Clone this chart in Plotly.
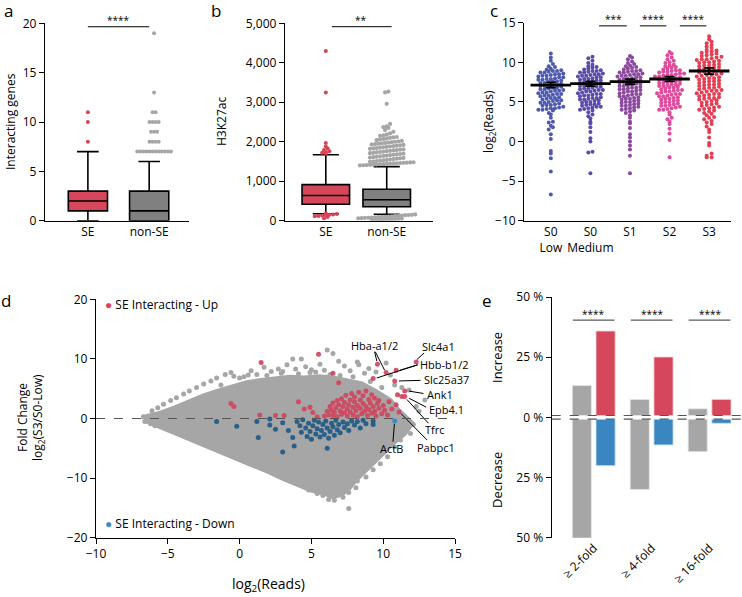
import plotly.graph_objects as go

# ---------------- data ----------------
# panel a: interacting genes (box stats + outliers)
A_CATS = ["SE", "non-SE"]
A_LOW = [0, 0]
A_Q1 = [1, 0]
A_MED = [2, 1]
A_Q3 = [3, 3]
A_HIGH = [7, 6]
A_SE_OUT = [8, 10, 11]
A_NONSE_OUT = [7, 7, 7, 7, 7, 7, 7, 7, 7, 7, 7, 7, 8, 8, 8, 8, 9, 9, 9,
               10, 10, 10, 10, 11, 11, 13, 19]

# panel b: H3K27ac
B_CATS = ["SE", "non-SE"]
B_LOW = [175, 165]
B_Q1 = [415, 355]
B_MED = [640, 530]
B_Q3 = [915, 795]
B_HIGH = [1670, 1370]
B_SE_OUT = [4300, 3250, 1970, 1880, 1830, 1790, 1760, 1740, 1720, 1700,
            185, 170, 160, 150, 140, 130, 120, 110, 95, 60]
B_NONSE_OUT = [3270, 3250, 2960, 2450, 2390, 2370, 2350, 2300, 2250, 2210, 2180,
               2160, 2150, 2120, 2110, 2100, 2080, 2070, 2060, 2040, 2020, 2010,
               2000, 1990, 1980, 1970, 1960, 1950, 1940, 1930, 1920, 1910, 1900,
               1890, 1880, 1870, 1860, 1850, 1840, 1830, 1820, 1810, 1800, 1790,
               1780, 1770, 1760, 1750, 1740, 1730, 1720, 1710, 1700, 1690, 1680,
               1670, 1660, 1650, 1640, 1630, 1620, 1610, 1600, 1590, 1580, 1570,
               1560, 1550, 1540, 1530, 1520, 1510, 1500, 1490, 1480, 1475, 1470,
               1465, 1460, 1455, 1450, 1445, 1440, 1435, 1430, 1425, 1420, 1415,
               1410, 1405, 1400,
               160, 150, 145, 140, 130, 125, 120, 110, 105, 100, 95, 90, 85, 80,
               75, 70, 65, 60, 55, 50, 45, 40, 35, 30, 25, 20, 15, 10]

# panel c: log2(Reads) per stage
C_CATS = ["S0<br>Low", "S0<br>Medium", "S1", "S2", "S3"]
C_S0_LOW = [11.1, 10.6, 10.2, 9.8, 9.5, 9.4, 9.2, 9.1, 9.0, 8.9, 8.9, 8.8, 8.7, 8.7,
            8.6, 8.5, 8.5, 8.4, 8.3, 8.3, 8.2, 8.1, 8.1, 8.0, 7.9, 7.9, 7.8, 7.8,
            7.7, 7.6, 7.6, 7.5, 7.4, 7.4, 7.3, 7.2, 7.2, 7.1, 7.0, 7.0, 6.9, 6.8,
            6.8, 6.7, 6.6, 6.6, 6.5, 6.4, 6.4, 6.3, 6.2, 6.2, 6.1, 6.0, 6.0, 5.9,
            5.8, 5.8, 5.7, 5.6, 5.5, 5.5, 5.4, 5.3, 5.2, 5.2, 5.1, 5.0, 4.9, 4.9,
            4.8, 4.7, 4.6, 4.6, 4.5, 4.4, 4.3, 4.2, 4.2, 4.1, 4.0, 4.0, 3.9, 3.6,
            3.4, 3.0, 2.5, 2.4, 2.0, 1.8, 1.5, 0.9, 0.3, -1.2, -1.5, -2.1, -3.8, -6.7]
C_S0_MED = [10.7, 10.5, 10.2, 9.9, 9.7, 9.5, 9.4, 9.3, 9.2, 9.1, 9.0, 8.9, 8.9, 8.8,
            8.7, 8.7, 8.6, 8.5, 8.5, 8.4, 8.3, 8.3, 8.2, 8.1, 8.1, 8.0, 7.9, 7.9,
            7.8, 7.7, 7.7, 7.6, 7.5, 7.5, 7.4, 7.3, 7.3, 7.2, 7.1, 7.1, 7.0, 6.9,
            6.9, 6.8, 6.7, 6.7, 6.6, 6.5, 6.5, 6.4, 6.3, 6.3, 6.2, 6.1, 6.0, 6.0,
            5.9, 5.8, 5.8, 5.7, 5.6, 5.5, 5.5, 5.4, 5.3, 5.3, 5.2, 5.1, 5.0, 5.0,
            4.9, 4.8, 4.7, 4.7, 4.6, 4.5, 4.4, 4.4, 4.3, 4.2, 4.1, 4.0, 3.9, 3.7,
            3.4, 3.2, 2.9, 2.5, 2.3, 1.8, 1.2, 0.4, 0.0, -1.3, -1.4, -4.0]
C_S1 = [10.8, 10.6, 10.4, 10.1, 9.9, 9.8, 9.6, 9.5, 9.4, 9.3, 9.2, 9.1, 9.0, 8.9,
        8.9, 8.8, 8.7, 8.7, 8.6, 8.5, 8.5, 8.4, 8.3, 8.3, 8.2, 8.1, 8.1, 8.0, 7.9,
        7.9, 7.8, 7.7, 7.7, 7.6, 7.5, 7.5, 7.4, 7.3, 7.3, 7.2, 7.1, 7.0, 7.0, 6.9,
        6.8, 6.8, 6.7, 6.6, 6.6, 6.5, 6.4, 6.3, 6.3, 6.2, 6.1, 6.0, 6.0, 5.9, 5.8,
        5.7, 5.7, 5.6, 5.5, 5.4, 5.4, 5.3, 5.2, 5.1, 5.0, 5.0, 4.9, 4.8, 4.7, 4.6,
        4.5, 4.5, 4.4, 4.3, 4.2, 4.1, 4.0, 3.9, 3.8, 3.6, 3.3, 3.0, 2.5, 2.3, 1.7,
        0.9, 0.5, 0.0, -0.5, -1.0, -1.8, -4.0]
C_S2 = [11.3, 11.1, 10.9, 10.6, 10.4, 10.2, 10.0, 9.9, 9.7, 9.6, 9.5, 9.4, 9.3, 9.2,
        9.1, 9.0, 9.0, 8.9, 8.8, 8.8, 8.7, 8.6, 8.6, 8.5, 8.4, 8.4, 8.3, 8.2, 8.2,
        8.1, 8.0, 8.0, 7.9, 7.8, 7.8, 7.7, 7.6, 7.6, 7.5, 7.4, 7.4, 7.3, 7.2, 7.2,
        7.1, 7.0, 7.0, 6.9, 6.8, 6.8, 6.7, 6.6, 6.5, 6.5, 6.4, 6.3, 6.3, 6.2, 6.1,
        6.0, 6.0, 5.9, 5.8, 5.7, 5.7, 5.6, 5.5, 5.4, 5.4, 5.3, 5.2, 5.1, 5.0, 5.0,
        4.9, 4.8, 4.7, 4.6, 4.5, 4.5, 4.4, 4.3, 4.2, 4.1, 4.0, 4.0, 3.7, 3.4, 3.0,
        2.8, 2.5, 2.2, 1.6, 1.0, 0.2, -2.0]
C_S3 = [13.3, 12.9, 12.6, 12.4, 12.2, 12.0, 11.8, 11.6, 11.5, 11.4, 11.3, 11.2, 11.1,
        11.0, 10.9, 10.8, 10.7, 10.6, 10.5, 10.4, 10.4, 10.3, 10.2, 10.1, 10.0, 10.0,
        9.9, 9.8, 9.7, 9.6, 9.6, 9.5, 9.4, 9.3, 9.2, 9.2, 9.1, 9.0, 8.9, 8.8, 8.8,
        8.7, 8.6, 8.5, 8.4, 8.4, 8.3, 8.2, 8.1, 8.0, 8.0, 7.9, 7.8, 7.7, 7.6, 7.6,
        7.5, 7.4, 7.3, 7.2, 7.2, 7.1, 7.0, 6.9, 6.8, 6.8, 6.7, 6.6, 6.5, 6.4, 6.4,
        6.3, 6.2, 6.1, 6.0, 6.0, 5.9, 5.8, 5.7, 5.6, 5.5, 5.5, 5.4, 5.3, 5.2, 5.1,
        5.0, 4.9, 4.8, 4.7, 4.6, 4.5, 4.4, 4.3, 4.2, 4.1, 4.0, 3.9, 3.8, 3.6, 3.5,
        3.3, 3.1, 3.0, 2.8, 2.6, 2.4, 2.2, 1.9, 1.5, 1.2, 0.5, -0.2, -0.5, -1.5,
        -1.8, -2.0, -2.0]
C_MEAN = [7.13, 7.3, 7.55, 7.89, 8.9]
C_SEM = [0.34, 0.3, 0.32, 0.3, 0.4]
C_SIG = ["***", "****", "****"]

# panel d: MA plot, grey background region outline (dense cloud) + points
D_CLOUD_X = [-6.7, -6.3, -5.5, -4.5, -3.5, -2.5, -1.5, -0.5, 0.5, 1.5, 2.5, 3.5, 4.5,
             5.5, 6.5, 7.5, 8.5, 9.5, 10.5, 11.0, 11.5, 12.0, 11.5, 11.0, 10.5, 10.0,
             9.5, 9.0, 8.5, 8.0, 7.5, 7.0, 6.5, 6.0, 5.0, 4.0, 3.0, 2.0, 1.0, 0.0,
             -1.0, -2.0, -3.0, -4.0, -5.0, -6.0, -6.6]
D_CLOUD_Y = [0.2, 0.4, 0.9, 1.8, 2.9, 3.8, 4.6, 5.4, 6.0, 6.4, 6.6, 6.9, 6.8, 7.0,
             6.8, 6.2, 5.8, 4.5, 3.0, 1.5, 0.3, -0.8, -2.5, -3.5, -4.5, -5.8, -7.0,
             -8.0, -9.3, -10.5, -12.0, -12.8, -13.1, -12.6, -12.0, -11.1, -10.0,
             -8.9, -7.9, -6.9, -5.9, -4.8, -3.8, -2.8, -1.8, -0.9, -0.3]
D_GREY_X = [-6.1, -5.7, -5.3, -4.8, -4.4, -3.9, -3.5, -3.0, -2.5, -2.0, -1.6, -1.0,
            -0.6, 0.3, 0.8, 1.7, 2.2, 2.7, 3.3, 3.7, 4.3, 4.6, 5.0, 5.6, 6.1, 6.5,
            6.9, 7.3, 7.7, 8.2, 8.3, 8.7, 9.0, 9.5, 10.2, 10.5, 10.8, 11.3, 11.8,
            12.3, 12.9, 12.5, 0.0, -0.4, 1.2, 2.9, 3.9, 4.9, 5.9, 7.9, 9.1, 9.9,
            12.1, 11.9, 11.2, 10.8, 10.3, 9.8, 9.3, 8.8, 8.2, 8.1, 7.6, 7.6, 7.2,
            6.6, 6.2, 5.8, 5.4, 4.8, -6.7, -6.6, -6.2, -5.9, -1.3, 0.6, 1.9, 3.0,
            4.1, 5.3, 6.3, 7.0]
D_GREY_Y = [1.3, 1.8, 2.4, 3.0, 3.5, 4.1, 4.6, 5.2, 5.8, 6.3, 6.8, 7.4, 7.7, 7.0,
            8.0, 8.6, 7.9, 8.3, 9.0, 10.0, 10.0, 8.7, 8.2, 9.1, 11.5, 10.9, 9.6,
            8.8, 8.0, 9.5, 9.0, 7.6, 8.4, 7.8, 9.3, 7.3, 5.6, 5.2, 4.8, 2.0, 3.1,
            1.2, 6.8, 7.1, 7.4, 7.6, 8.3, 7.7, 8.1, 7.0, 6.2, 5.2, -1.0, -2.5, -3.6,
            -4.8, -6.4, -7.6, -8.6, -9.8, -10.5, -11.6, -12.4, -15.1, -13.2, -13.7,
            -13.6, -12.9, -12.6, -12.0, 0.3, -0.5, -0.9, -1.2, 5.6, 7.3, 7.2, 7.9,
            7.5, 7.8, 7.4, 7.2]
D_UP_X = [5.9, 6.1, 6.2, 6.3, 6.4, 6.5, 6.5, 6.6, 6.7, 6.8, 6.8, 6.9, 7.0, 7.1, 7.1,
          7.2, 7.3, 7.3, 7.4, 7.5, 7.5, 7.6, 7.7, 7.7, 7.8, 7.9, 7.9, 8.0, 8.0, 8.1,
          8.2, 8.2, 8.3, 8.4, 8.4, 8.5, 8.6, 8.6, 8.7, 8.8, 8.8, 8.9, 9.0, 9.0, 9.1,
          9.2, 9.2, 9.3, 9.4, 9.4, 9.5, 9.6, 9.7, 9.7, 9.9, 10.0, 10.1, 10.3, 10.4,
          10.6, 10.9, 11.0, 1.5, 5.5, 6.5, 6.9, -0.6, -0.4, 1.4, 2.5, 3.1, 4.1, 4.5,
          4.9, 5.1, 5.4, 9.6, 10.2, 12.3, 10.9, 9.3, 10.8, 11.5, 11.3, 11.5, 11.1]
D_UP_Y = [0.4, 1.2, 0.6, 2.0, 1.4, 0.5, 2.6, 1.0, 1.8, 3.0, 0.3, 2.3, 1.3, 0.7, 3.3,
          2.0, 1.0, 2.7, 3.9, 1.6, 0.4, 2.3, 3.1, 1.1, 4.2, 1.9, 0.6, 2.8, 3.6, 1.3,
          2.2, 0.3, 4.4, 3.1, 1.7, 0.8, 2.5, 3.8, 1.2, 2.0, 4.6, 0.5, 3.2, 1.5, 2.6,
          4.0, 0.9, 2.0, 3.4, 1.2, 0.4, 2.5, 1.7, 3.0, 0.8, 2.2, 1.4, 0.6, 2.8, 1.6,
          2.3, 4.0, 9.4, 10.8, 7.6, 6.0, 2.5, 2.0, 0.6, 0.5, 0.5, 2.8, 1.6, 1.9, 1.0,
          0.3, 9.1, 7.7, 9.5, 8.1, 6.7, 6.3, 4.6, 3.7, 3.7, 1.1]
D_DOWN_X = [-1.6, -0.2, 1.2, 1.3, 2.1, 2.1, 2.5, 3.0, 3.0, 3.4, 3.7, 3.8, 4.0, 4.2,
            4.3, 4.4, 4.6, 4.7, 4.8, 4.9, 5.0, 5.1, 5.2, 5.3, 5.4, 5.5, 5.6, 5.7,
            5.8, 5.9, 6.0, 6.1, 6.1, 6.2, 6.3, 6.4, 6.5, 6.6, 6.7, 6.8, 6.9, 7.0,
            7.2, 7.3, 7.5, 7.6, 7.8, 8.0, 8.2, 8.4, 8.6, 8.8, 9.3, 9.3]
D_DOWN_Y = [-0.5, -1.3, -0.5, -3.2, -0.1, -1.1, -1.8, -0.7, -5.6, -2.0, -3.2, -4.6,
            -0.5, -1.2, -2.3, -0.2, -1.6, -3.0, -0.8, -2.2, -3.5, -1.2, -0.3, -2.6,
            -1.7, -0.6, -3.1, -2.0, -1.0, -2.7, -0.4, -1.6, -5.0, -3.3, -2.2, -0.8,
            -1.4, -2.8, -0.3, -1.9, -1.0, -2.4, -0.6, -1.5, -0.9, -2.0, -0.4, -1.1,
            -0.5, -1.6, -0.3, -0.9, -0.4, -1.0]
D_ACTB = (10.8, -0.4)
D_LABELS = ["Hba-a1/2", "Slc4a1", "Hbb-b1/2", "Slc25a37", "Ank1", "Epb4.1", "Tfrc",
            "Pabpc1", "ActB"]

# panel e: percent of genes changed
E_CATS = ["≥ 2-fold", "≥ 4-fold", "≥ 16-fold"]
E_ALL_UP = [12.5, 6.7, 2.8]
E_SE_UP = [35.1, 24.3, 6.7]
E_ALL_DOWN = [49.9, 29.2, 13.5]
E_SE_DOWN = [19.3, 10.7, 1.7]

# ---------------- style ----------------
W, H = 742, 597
FONT = "Open Sans"
RED = "#D6475B"
GREY = "#A6A6A6"
BLUE = "#3A86C0"
C_COLORS = ["#4E5AAE", "#5C4BA8", "#8B4A9E", "#E04A9A", "#E63D52"]


def dom_x(a, b):
    return [a / W, b / W]


def dom_y(top, bottom):
    return [1 - bottom / H, 1 - top / H]


def swarm(values, center, step, row_h):
    rows = {}
    for v in sorted(values):
        rows.setdefault(round(v / row_h), []).append(v)
    xs, ys = [], []
    for vs in rows.values():
        n = len(vs)
        for i, v in enumerate(vs):
            xs.append(center + (i - (n - 1) / 2) * step)
            ys.append(v)
    return xs, ys


fig = go.Figure()

# ---- panel a ----
for i, col in enumerate([RED, "#808080"]):
    fig.add_trace(go.Box(x=[i], q1=[A_Q1[i]], median=[A_MED[i]], q3=[A_Q3[i]],
                         lowerfence=[A_LOW[i]], upperfence=[A_HIGH[i]],
                         width=0.64, whiskerwidth=0.55, fillcolor=col,
                         line=dict(color="black", width=1.6), boxpoints=False,
                         xaxis="x", yaxis="y", showlegend=False))
sx, sy = swarm(A_SE_OUT, 0, 0.05, 1)
fig.add_trace(go.Scatter(x=sx, y=sy, mode="markers", marker=dict(size=4, color="#D94455"),
                         xaxis="x", yaxis="y", showlegend=False))
sx, sy = swarm(A_NONSE_OUT, 1.08, 0.05, 1)
fig.add_trace(go.Scatter(x=sx, y=sy, mode="markers", marker=dict(size=4, color=GREY),
                         xaxis="x", yaxis="y", showlegend=False))
fig.add_trace(go.Scatter(x=[0, 1], y=[19.65, 19.65], mode="lines",
                         line=dict(color="black", width=1), xaxis="x", yaxis="y",
                         showlegend=False))

# ---- panel b ----
for i, col in enumerate([RED, "#808080"]):
    fig.add_trace(go.Box(x=[i], q1=[B_Q1[i]], median=[B_MED[i]], q3=[B_Q3[i]],
                         lowerfence=[B_LOW[i]], upperfence=[B_HIGH[i]],
                         width=0.78, whiskerwidth=0.55, fillcolor=col,
                         line=dict(color="black", width=1.6), boxpoints=False,
                         xaxis="x2", yaxis="y2", showlegend=False))
sx, sy = swarm(B_SE_OUT, 0, 0.06, 70)
fig.add_trace(go.Scatter(x=sx, y=sy, mode="markers", marker=dict(size=4, color="#D94455"),
                         xaxis="x2", yaxis="y2", showlegend=False))
sx, sy = swarm(B_NONSE_OUT, 1, 0.055, 110)
fig.add_trace(go.Scatter(x=sx, y=sy, mode="markers", marker=dict(size=4.2, color=GREY),
                         xaxis="x2", yaxis="y2", showlegend=False))
fig.add_trace(go.Scatter(x=[0.1, 1.08], y=[4914, 4914], mode="lines",
                         line=dict(color="black", width=1), xaxis="x2", yaxis="y2",
                         showlegend=False))

# ---- panel c ----
c_groups = [C_S0_LOW, C_S0_MED, C_S1, C_S2, C_S3]
c_steps = [0.105, 0.105, 0.105, 0.105, 0.125]
for i, vals in enumerate(c_groups):
    sx, sy = swarm(vals, i, c_steps[i], 0.42)
    fig.add_trace(go.Scatter(x=sx, y=sy, mode="markers",
                             marker=dict(size=4, color=C_COLORS[i]),
                             xaxis="x3", yaxis="y3", showlegend=False))
fig.add_trace(go.Scatter(x=list(range(5)), y=C_MEAN, mode="markers",
                         marker=dict(symbol="line-ew", size=29,
                                     line=dict(width=2.8, color="black")),
                         error_y=dict(type="data", array=C_SEM, width=5,
                                      thickness=1.8, color="black"),
                         xaxis="x3", yaxis="y3", showlegend=False))
c_sig_x = [(1.22, 1.92), (2.25, 2.92), (3.26, 3.93)]
for x0, x1 in c_sig_x:
    fig.add_trace(go.Scatter(x=[x0, x1], y=[14.6, 14.6], mode="lines",
                             line=dict(color="black", width=1), xaxis="x3", yaxis="y3",
                             showlegend=False))

# ---- panel d ----
fig.add_trace(go.Scatter(x=D_CLOUD_X, y=D_CLOUD_Y, mode="lines", fill="toself",
                         fillcolor=GREY, line=dict(color=GREY, width=5),
                         xaxis="x4", yaxis="y4", showlegend=False, hoverinfo="skip"))
fig.add_trace(go.Scatter(x=D_GREY_X, y=D_GREY_Y, mode="markers",
                         marker=dict(size=5, color=GREY),
                         xaxis="x4", yaxis="y4", showlegend=False))
fig.add_trace(go.Scatter(x=D_DOWN_X, y=D_DOWN_Y, mode="markers",
                         marker=dict(size=5, color="#1F5A86", opacity=0.92),
                         xaxis="x4", yaxis="y4", showlegend=False))
fig.add_trace(go.Scatter(x=D_UP_X, y=D_UP_Y, mode="markers",
                         marker=dict(size=5, color="#CE4760", opacity=0.92),
                         xaxis="x4", yaxis="y4", showlegend=False))
fig.add_trace(go.Scatter(x=[D_ACTB[0]], y=[D_ACTB[1]], mode="markers",
                         marker=dict(size=5, color="#3A8CC8"),
                         xaxis="x4", yaxis="y4", showlegend=False))

# leader lines: (label, text x, text y, anchor, [(from x, from y, to x, to y), ...])
d_label_pos = [
    ("Hba-a1/2", 9.36, 12.3, "center", [(9.4, 11.2, 9.56, 9.6), (9.45, 11.2, 10.1, 8.1)]),
    ("Slc4a1", 12.55, 12.1, "left", [(12.85, 11.0, 12.35, 9.9)]),
    ("Hbb-b1/2", 12.45, 9.1, "left", [(12.4, 9.0, 11.15, 8.1), (12.4, 9.0, 9.55, 6.8)]),
    ("Slc25a37", 12.7, 6.5, "left", [(12.6, 6.4, 11.1, 6.3)]),
    ("Ank1", 12.9, 4.1, "left", [(12.8, 4.2, 11.8, 4.6)]),
    ("Epb4.1", 13.05, 1.5, "left", [(13.0, 1.9, 11.8, 3.4)]),
    ("Tfrc", 13.6, -1.8, "center", [(13.15, -0.8, 11.65, 3.2)]),
    ("Pabpc1", 13.7, -4.8, "center", [(13.05, -3.6, 11.25, 0.8)]),
    ("ActB", 10.6, -5.0, "center", [(10.68, -3.9, 10.78, -0.9)]),
]
lx, ly = [], []
for _, _, _, _, segs in d_label_pos:
    for x0, y0, x1, y1 in segs:
        lx += [x0, x1, None]
        ly += [y0, y1, None]
fig.add_trace(go.Scatter(x=lx, y=ly, mode="lines", line=dict(color="black", width=1),
                         xaxis="x4", yaxis="y4", showlegend=False, hoverinfo="skip"))

# ---- panel e ----
e_idx = list(range(len(E_CATS)))
GAP = 0.76
fig.add_trace(go.Bar(x=e_idx, y=E_ALL_UP, base=GAP, width=0.33, offset=-0.37,
                     marker=dict(color=GREY, line=dict(color="#E8E8E8", width=0.8)),
                     xaxis="x5", yaxis="y5", showlegend=False))
fig.add_trace(go.Bar(x=e_idx, y=E_SE_UP, base=GAP, width=0.33, offset=0.04,
                     marker=dict(color=RED, line=dict(color="#F0D0D5", width=0.8)),
                     xaxis="x5", yaxis="y5", showlegend=False))
fig.add_trace(go.Bar(x=e_idx, y=[-v for v in E_ALL_DOWN], base=-GAP, width=0.33,
                     offset=-0.37,
                     marker=dict(color=GREY, line=dict(color="#E8E8E8", width=0.8)),
                     xaxis="x5", yaxis="y5", showlegend=False))
fig.add_trace(go.Bar(x=e_idx, y=[-v for v in E_SE_DOWN], base=-GAP, width=0.33,
                     offset=0.04,
                     marker=dict(color=BLUE, line=dict(color="#D0E0F0", width=0.8)),
                     xaxis="x5", yaxis="y5", showlegend=False))
for i in e_idx:
    fig.add_trace(go.Scatter(x=[i - 0.36, i + 0.36], y=[40.4, 40.4], mode="lines",
                             line=dict(color="#333333", width=1), xaxis="x5", yaxis="y5",
                             showlegend=False))

# ---------------- layout ----------------
base_ax = dict(showline=True, linecolor="black", linewidth=1.4, ticks="outside",
               ticklen=5, tickwidth=1.4, tickcolor="black", showgrid=False,
               zeroline=False, automargin=False,
               tickfont=dict(family=FONT, size=12, color="black"))
cat_ax = dict(base_ax, ticks="")

fig.update_layout(
    width=W, height=H, margin=dict(l=0, r=0, t=0, b=0, autoexpand=False),
    paper_bgcolor="white", plot_bgcolor="white", showlegend=False,
    font=dict(family=FONT, color="black"),
    barmode="overlay",
    xaxis=dict(cat_ax, domain=dom_x(45, 189), range=[-0.70, 1.65], anchor="y",
               tickvals=[0, 1], ticktext=A_CATS),
    yaxis=dict(base_ax, domain=dom_y(23.3, 220.7), range=[0, 20], anchor="x",
               tickvals=[0, 5, 10, 15, 20]),
    xaxis2=dict(cat_ax, domain=dom_x(285, 432.7), range=[-0.67, 1.755], anchor="y2",
                tickvals=[0, 1], ticktext=B_CATS),
    yaxis2=dict(base_ax, domain=dom_y(23.3, 220.7), range=[0, 5000], anchor="x2",
                tickvals=[0, 1000, 2000, 3000, 4000, 5000],
                ticktext=["0", "1,000", "2,000", "3,000", "4,000", "5,000"]),
    xaxis3=dict(cat_ax, domain=dom_x(524.3, 730.7), range=[-0.67, 4.545], anchor="y3",
                tickvals=list(range(5)), ticktext=C_CATS),
    yaxis3=dict(base_ax, domain=dom_y(22.7, 220.7), range=[-10, 15], anchor="x3",
                tickvals=[-10, -5, 0, 5, 10, 15]),
    xaxis4=dict(base_ax, domain=dom_x(96, 455), range=[-10, 15], anchor="y4",
                tickvals=[-10, -5, 0, 5, 10, 15]),
    yaxis4=dict(base_ax, domain=dom_y(299.3, 537.7), range=[-20, 20], anchor="x4",
                tickvals=[-20, -10, 0, 10, 20]),
    xaxis5=dict(base_ax, showline=False, ticks="", domain=dom_x(551.7, 742),
                range=[-0.725, 2.56], anchor="y5", tickvals=e_idx,
                ticktext=E_CATS, tickangle=-45),
    yaxis5=dict(base_ax, domain=dom_y(297, 537.7), range=[-50, 50], anchor="x5",
                tickvals=[50, 25, 0, -25, -50],
                ticktext=["50 %", "25 %", "0 %", "25 %", "50 %"]),
)

# dashed reference lines
fig.add_shape(type="line", xref="x4", yref="y4", x0=-10, x1=15, y0=0, y1=0,
              line=dict(color="#555555", width=1.2, dash="dash"))
for yv in [GAP, -GAP]:
    fig.add_shape(type="line", xref="x5 domain", yref="y5", x0=0, x1=1, y0=yv, y1=yv,
                  line=dict(color="#555555", width=1.2, dash="dash"))

ann = []


def paper_text(px, py, text, size=12, angle=0, xanchor="center", yanchor="middle"):
    ann.append(dict(x=px / W, y=1 - py / H, xref="paper", yref="paper", text=text,
                    showarrow=False, textangle=angle, xanchor=xanchor, yanchor=yanchor,
                    font=dict(family=FONT, size=size, color="black")))


# panel letters
for letter, px, py in [("a", 8, 10), ("b", 216, 10), ("c", 494, 10), ("d", 6, 300),
                       ("e", 487, 300)]:
    paper_text(px, py, letter, size=17)

# axis titles
paper_text(11, 122, "Interacting genes", angle=-90)
paper_text(222, 122, "H3K27ac", angle=-90)
paper_text(489, 122, "log<sub>2</sub>(Reads)", angle=-90)
paper_text(22, 418, "Fold Change", angle=-90)
paper_text(38, 418, "log<sub>2</sub>(S3/S0-Low)", angle=-90)
paper_text(268, 584, "log<sub>2</sub>(Reads)", size=14)
paper_text(497, 358, "Increase", angle=-90, size=13)
paper_text(497, 480, "Decrease", angle=-90, size=13)

# significance stars
for px, py, s in [(118, 20, "****"), (361, 20, "**"), (613, 19, C_SIG[0]),
                  (653, 19, C_SIG[1]), (693, 19, C_SIG[2]),
                  (593.7, 314, "****"), (652.7, 314, "****"), (710, 314, "****")]:
    paper_text(px, py, s, size=10)

# legend text for panel d
paper_text(103, 304, '<span style="color:#E0405A">●</span> SE Interacting - Up',
           size=12, xanchor="left")
paper_text(103, 523, '<span style="color:#3A8CC8">●</span> SE Interacting - Down',
           size=12, xanchor="left")

for name, tx, ty, anchor, _ in d_label_pos:
    ann.append(dict(x=tx, y=ty, xref="x4", yref="y4", text=name, showarrow=False,
                    xanchor=anchor, yanchor="middle",
                    font=dict(family=FONT, size=11, color="black")))

fig.update_layout(annotations=ann)
# drop the page's default body margin so the figure sits at the window's corner
fig.write_html("out.html", config={"displayModeBar": False},
               post_script="document.body.style.margin='0';")
